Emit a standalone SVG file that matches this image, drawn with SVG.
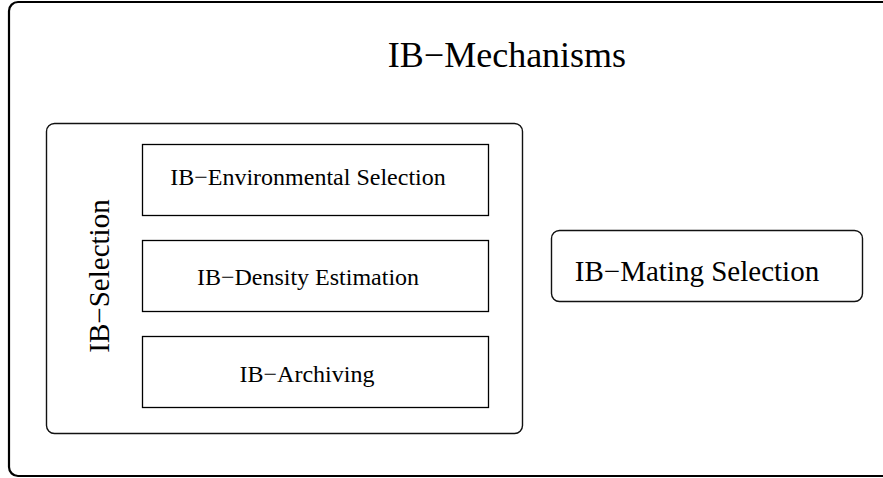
<svg xmlns="http://www.w3.org/2000/svg" width="883" height="478" viewBox="0 0 883 478">
<style>
text{font-family:"Liberation Serif","Times New Roman",serif;fill:#000;text-anchor:middle}
.rbox{fill:none;stroke:#111;stroke-width:1.4}
.box{fill:#fff;stroke:#000;stroke-width:1.3}
.sm{font-size:24px}
</style>
<g id="mechanisms">
<rect x="9" y="2" width="890" height="474" rx="9" fill="#fff" stroke="#000" stroke-width="2.2"/>
<text x="507" y="67" style="font-size:36px">IB−Mechanisms</text>
</g>
<g id="selection">
<rect class="rbox" x="46.5" y="123.5" width="476" height="310" rx="8"/>
<text transform="translate(109,276) rotate(-90)" style="font-size:29px">IB−Selection</text>
</g>
<g id="env">
<rect class="box" x="142.5" y="144.5" width="346" height="71"/>
<text class="sm" x="308" y="185">IB−Environmental Selection</text>
</g>
<g id="density">
<rect class="box" x="142.5" y="240.5" width="346" height="71"/>
<text class="sm" x="308" y="285">IB−Density Estimation</text>
</g>
<g id="archiving">
<rect class="box" x="142.5" y="336.5" width="346" height="71"/>
<text class="sm" x="307" y="382">IB−Archiving</text>
</g>
<g id="mating">
<rect class="rbox" x="551.5" y="230.5" width="311" height="71" rx="8"/>
<text x="697" y="281" style="font-size:29px">IB−Mating Selection</text>
</g>
<g id="connectors"/>
</svg>
